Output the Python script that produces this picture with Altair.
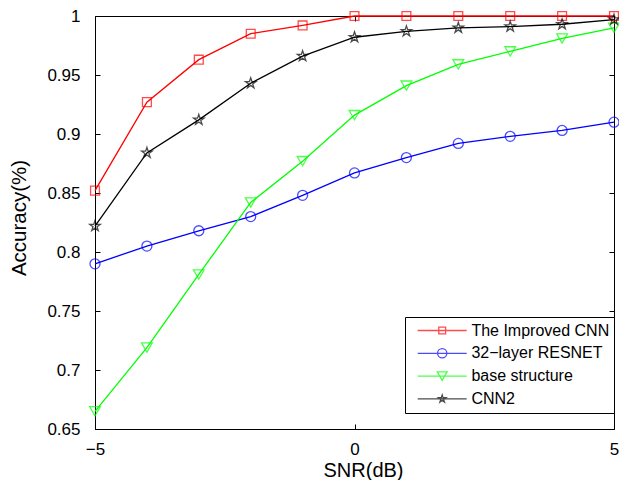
import altair as alt
import pandas as pd

# ---- data ----
snr = [-5, -4, -3, -2, -1, 0, 1, 2, 3, 4, 5]
improved_cnn = [0.852, 0.927, 0.963, 0.985, 0.992, 1.000, 1.000, 1.000, 1.000, 1.000, 1.000]
resnet32 = [0.790, 0.805, 0.818, 0.830, 0.848, 0.867, 0.880, 0.892, 0.898, 0.903, 0.910]
base_structure = [0.665, 0.719, 0.781, 0.842, 0.877, 0.916, 0.941, 0.959, 0.970, 0.981, 0.990]
cnn2 = [0.822, 0.884, 0.912, 0.943, 0.966, 0.982, 0.987, 0.990, 0.991, 0.993, 0.997]

series_names = ["The Improved CNN", "32\u2212layer RESNET", "base structure", "CNN2"]
series_values = [improved_cnn, resnet32, base_structure, cnn2]
colors = ["#ff0000", "#0000ff", "#00ff00", "#000000"]

x_ticks = [-5, 0, 5]
y_ticks = [0.65, 0.7, 0.75, 0.8, 0.85, 0.9, 0.95, 1.0]

rows = []
for name, vals in zip(series_names, series_values):
    for s, v in zip(snr, vals):
        rows.append({"snr": s, "acc": v, "series": name})
df = pd.DataFrame(rows)

# ---- marker styles ----
star = ("M0,-1L0.225,-0.309L0.951,-0.309L0.363,0.118L0.588,0.809L0,0.382"
        "L-0.588,0.809L-0.363,0.118L-0.951,-0.309L-0.225,-0.309Z")
markers = [("square", 78), ("circle", 100), ("triangle-down", 115), (star, 121)]


def scale_path(k):
    pts = [(0, -1), (0.225, -0.309), (0.951, -0.309), (0.363, 0.118), (0.588, 0.809),
           (0, 0.382), (-0.588, 0.809), (-0.363, 0.118), (-0.951, -0.309), (-0.225, -0.309)]
    return "M" + "L".join(f"{x*k:.3f},{y*k:.3f}" for x, y in pts) + "Z"


line_seg = "M-1,0H1"
legend_paths = [
    line_seg + "M-0.14,-0.14H0.14V0.14H-0.14Z",
    line_seg + "M-0.19,0A0.19,0.19,0,1,0,0.19,0A0.19,0.19,0,1,0,-0.19,0Z",
    line_seg + "M0,0.173L-0.2,-0.173L0.2,-0.173Z",
    line_seg + scale_path(0.16),
]

W, H = 519, 413
FONT = "Liberation Sans"

x_enc = alt.X(
    "snr:Q",
    scale=alt.Scale(domain=[-5, 5], nice=False, zero=False),
    axis=alt.Axis(
        values=x_ticks, format="d", title="SNR(dB)", ticks=False, domain=False,
        grid=True, gridColor="black", gridWidth=1, gridOpacity=1,
        gridDash=[5, H - 10, 5, 1000],
        labelFont=FONT, labelFontSize=17, labelColor="black", labelPadding=12,
        labelFlush=False,
        titleFont=FONT, titleFontSize=20, titleFontWeight="normal", titleColor="black",
        titleX=268, titleY=47, titleBaseline="alphabetic", titleAlign="center",
    ),
)
y_enc = alt.Y(
    "acc:Q",
    scale=alt.Scale(domain=[0.65, 1.0], nice=False, zero=False),
    axis=alt.Axis(
        values=y_ticks, format=".2~f", title="Accuracy(%)", ticks=False, domain=False,
        grid=True, gridColor="black", gridWidth=1, gridOpacity=1,
        gridDash=[5, W - 10, 5, 1000],
        labelFont=FONT, labelFontSize=17, labelColor="black", labelPadding=15,
        labelFlush=False,
        titleFont=FONT, titleFontSize=20.5, titleFontWeight="normal", titleColor="black",
        titleX=-70, titleY=201.5, titleBaseline="alphabetic", titleAlign="center",
    ),
)

base = alt.Chart(df)
layers = []
for i, (name, col) in enumerate(zip(series_names, colors)):
    sel = base.transform_filter(alt.datum.series == name)
    layers.append(sel.mark_line(color=col, strokeWidth=1.3).encode(x=x_enc, y=y_enc))
for i, (name, col) in enumerate(zip(series_names, colors)):
    shp, sz = markers[i]
    sel = base.transform_filter(alt.datum.series == name)
    layers.append(
        sel.mark_point(shape=shp, size=sz, color=col, filled=False, strokeWidth=1.3)
        .encode(x=alt.X("snr:Q"), y=alt.Y("acc:Q"))
    )

legend_def = alt.Legend(
    title=None, orient="none", legendX=310, legendY=301,
    padding=4, strokeColor="black", fillColor="white", cornerRadius=0,
    labelFont=FONT, labelFontSize=16, labelColor="black", labelLimit=400,
    labelOffset=3.7, symbolOffset=7.7, symbolSize=2401, symbolStrokeWidth=1.3,
    clipHeight=19, rowPadding=3.8,
)
legend_layer = base.transform_filter("false").mark_point(filled=False, strokeWidth=1.3).encode(
    color=alt.Color("series:N", scale=alt.Scale(domain=series_names, range=colors),
                    legend=legend_def),
    shape=alt.Shape("series:N", scale=alt.Scale(domain=series_names, range=legend_paths),
                    legend=legend_def),
)
layers.append(legend_layer)

chart = (
    alt.layer(*layers)
    .properties(
        width=W, height=H,
        autosize=alt.AutoSizeParams(type="none"),
        padding={"left": 87, "top": 8, "right": 5, "bottom": 51},
        background="white",
    )
    .configure_view(stroke="black", strokeWidth=1)
)

chart.save("out.html", embed_options={"renderer": "svg", "actions": False})
